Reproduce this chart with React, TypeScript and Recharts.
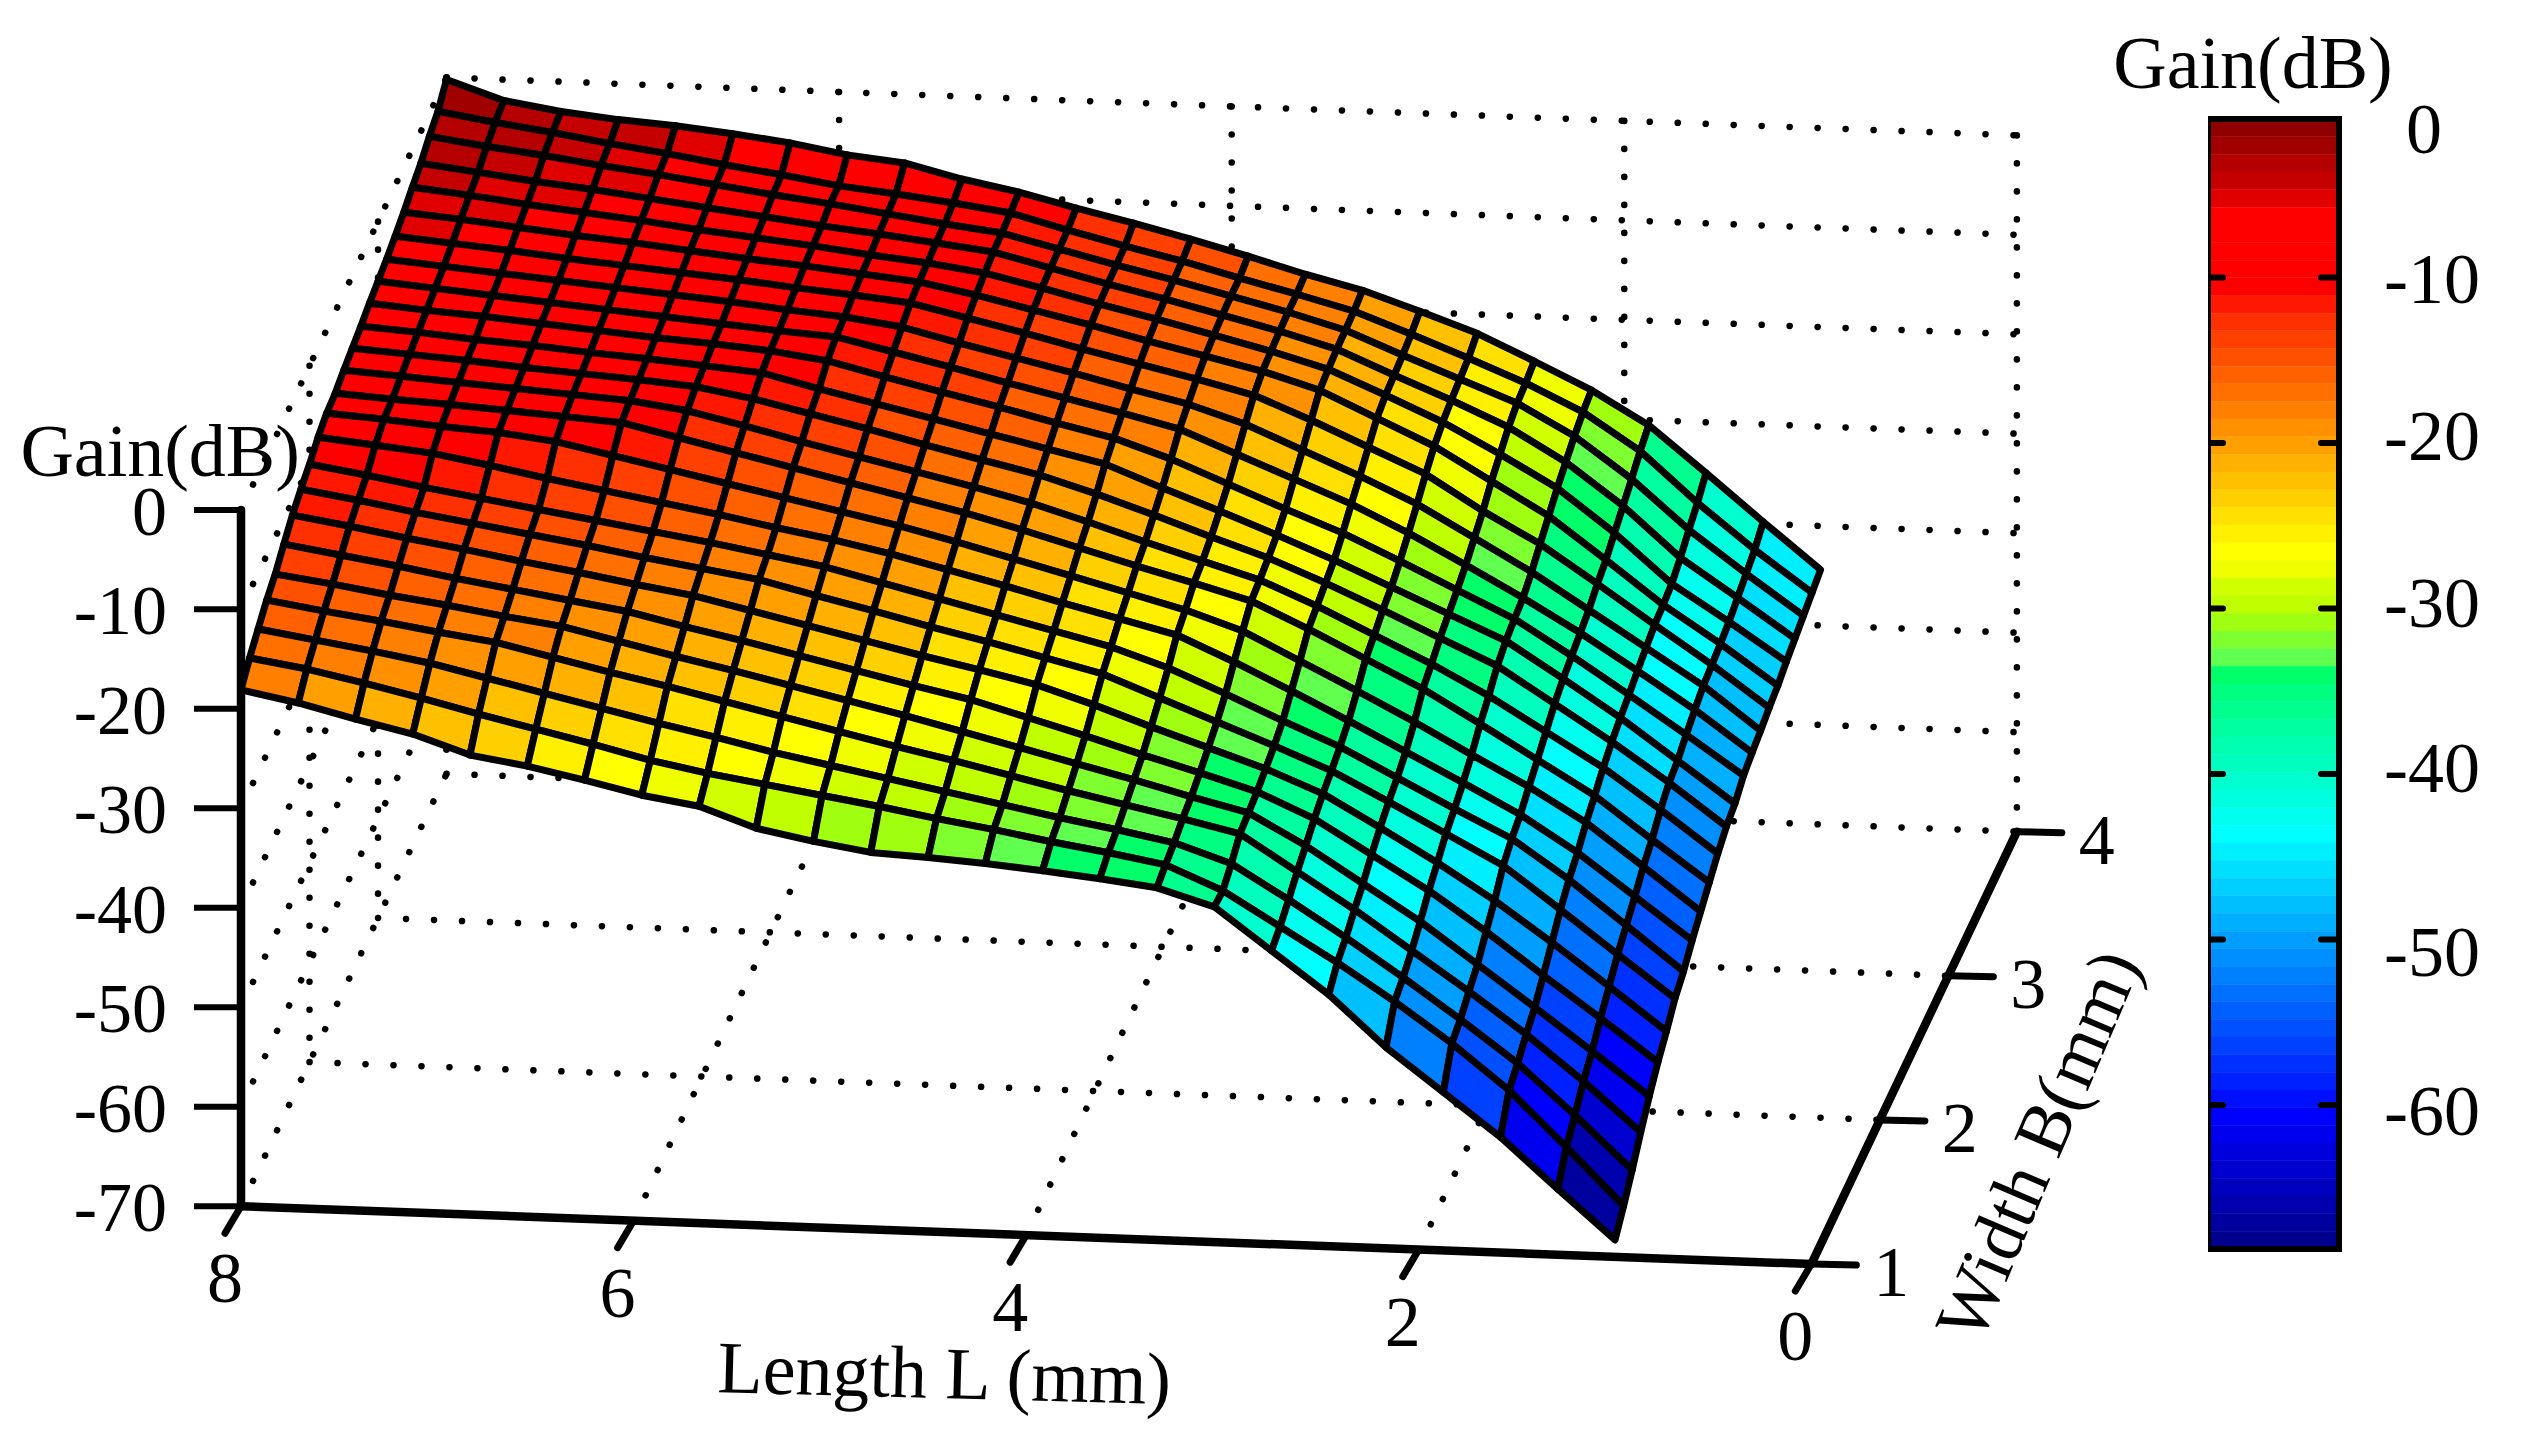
import React from 'react';
import { ScatterChart, Scatter, XAxis, YAxis, ComposedChart, Bar } from 'recharts';

const FONT = '"Liberation Serif", "Times New Roman", serif';

const lengthTicks = [8, 6, 4, 2, 0];
const widthTicks = [1, 2, 3, 4];
const gainTicks = [0, -10, -20, -30, -40, -50, -60, -70];
const colorbarTicks = [0, -10, -20, -30, -40, -50, -60];

const lengthCount = 25; // L from 8 down to 1 mm
const widthCount = 25; // B from 1 up to 4 mm

// Gain (dB): one row per width B (1 -> 4 mm), one value per length L (8 -> 1 mm)
const gainB00 = [-18.1,-19.2,-20.6,-21.9,-23.8,-24.7,-25.9,-27.2,-28.1,-30.1,-31.2,-32.1,-32.4,-32.8,-33.3,-33.9,-34.6,-36.3,-40.5,-44.7,-49.8,-54.1,-58.4,-63.4,-68.3];
const gainB01 = [-16.7,-17.6,-18.8,-20.1,-21.5,-22.8,-24.1,-25.5,-26.6,-27.5,-28.4,-29.3,-30.3,-31.2,-32.2,-33.1,-34.1,-36.5,-39.9,-43.3,-47,-51,-55.5,-61,-66.7];
const gainB02 = [-15.6,-16.5,-17.4,-18.4,-19.7,-21,-22.3,-23.6,-24.8,-26.1,-27.2,-28.3,-29.4,-30.5,-31.6,-32.6,-33.7,-35.6,-39,-42.6,-46.4,-50.4,-54.6,-59.6,-64.9];
const gainB03 = [-14.5,-15.4,-16.2,-17.1,-17.9,-19.2,-20.5,-21.7,-23,-24.3,-25.6,-26.9,-28.1,-29.4,-30.7,-31.9,-33.1,-34.4,-38,-41.6,-45.5,-49.4,-53.5,-58,-62.9];
const gainB04 = [-13.7,-14.5,-15.4,-16.2,-17.1,-17.9,-19.2,-20.5,-21.7,-23,-24.3,-25.6,-27,-28.4,-29.8,-31.2,-32.7,-34.1,-37.2,-40.8,-44.4,-48.5,-52.6,-56.8,-61.1];
const gainB05 = [-12.5,-13.4,-14.3,-15.3,-16.2,-17.1,-18,-19.3,-20.5,-21.8,-23.1,-24.4,-25.6,-27.2,-28.8,-30.5,-32.1,-33.8,-36.3,-39.7,-43.1,-47,-51.2,-55.3,-59.5];
const gainB06 = [-11.4,-12.3,-13.3,-14.2,-15.2,-16.1,-17.1,-18,-19.3,-20.6,-21.9,-23.2,-24.4,-25.7,-27.5,-29.5,-31.4,-33.3,-35.6,-38.8,-42.1,-45.7,-49.7,-53.9,-58.2];
const gainB07 = [-10.6,-11.5,-12.5,-13.4,-14.3,-15.2,-16.2,-17.1,-18,-19.4,-20.7,-22.1,-23.4,-24.8,-26.2,-28.4,-30.6,-32.8,-35.1,-38,-41,-44,-48.2,-52.5,-56.7];
const gainB08 = [-9.9,-10.8,-11.8,-12.7,-13.6,-14.5,-15.4,-16.3,-17.3,-18.3,-19.7,-21.1,-22.5,-23.9,-25.3,-27.2,-29.6,-32.1,-34.5,-37.4,-40.3,-43.1,-47,-51.4,-55.8];
const gainB09 = [-9,-9.6,-10.2,-11.2,-12.3,-13.3,-14.3,-15.3,-16.4,-17.4,-18.6,-20,-21.4,-22.9,-24.3,-25.7,-28.2,-30.9,-33.7,-36.6,-39.5,-42.5,-46.1,-50.3,-54.5];
const gainB10 = [-8.4,-8.8,-9.3,-9.7,-10.4,-11.6,-12.8,-14,-15.2,-16.4,-17.6,-19,-20.5,-22,-23.5,-25,-26.9,-29.7,-32.5,-35.4,-38.5,-41.5,-44.9,-49.1,-53.4];
const gainB11 = [-8.2,-8.6,-8.9,-9.3,-9.7,-10.1,-11.4,-12.7,-14,-15.3,-16.6,-17.9,-19.4,-21,-22.6,-24.1,-25.7,-28.3,-31.1,-33.9,-37.2,-40.6,-44,-48.2,-52.3];
const gainB12 = [-7.7,-8.1,-8.5,-8.9,-9.3,-9.7,-10.5,-11.8,-13.2,-14.5,-15.8,-17.1,-18.5,-20.2,-22,-23.7,-25.4,-27.8,-30.5,-33.2,-36.2,-39.6,-43,-47,-51.2];
const gainB13 = [-7.3,-7.7,-8.1,-8.6,-9,-9.4,-9.9,-10.9,-12.2,-13.5,-14.9,-16.2,-17.5,-19.2,-21.1,-23.1,-25,-27.3,-29.8,-32.4,-35,-38.6,-42.2,-46.1,-50.3];
const gainB14 = [-6.9,-7.3,-7.8,-8.2,-8.7,-9.1,-9.6,-10.1,-11.5,-12.8,-14.1,-15.4,-16.7,-18,-20.2,-22.3,-24.5,-26.8,-29.3,-31.8,-34.3,-37.9,-41.6,-45.7,-49.8];
const gainB15 = [-6.4,-6.9,-7.3,-7.8,-8.3,-8.8,-9.2,-9.7,-10.5,-11.9,-13.2,-14.5,-15.9,-17.2,-19.1,-21.4,-23.7,-25.9,-28.5,-31.2,-33.9,-37.4,-41.1,-44.9,-48.8];
const gainB16 = [-6,-6.5,-7,-7.5,-8,-8.5,-9,-9.5,-9.9,-11.2,-12.5,-13.9,-15.2,-16.5,-17.9,-20.2,-22.5,-24.8,-27.5,-30.5,-33.6,-36.9,-40.5,-44.2,-48.3];
const gainB17 = [-5.6,-6.1,-6.6,-7.1,-7.6,-8.1,-8.6,-9.2,-9.7,-10.5,-11.9,-13.2,-14.5,-15.9,-17.2,-19,-21.4,-23.8,-26.4,-29.6,-32.8,-36.4,-40,-43.6,-47.9];
const gainB18 = [-5.1,-5.6,-6.1,-6.7,-7.2,-7.7,-8.2,-8.8,-9.3,-9.9,-11.2,-12.5,-13.9,-15.2,-16.5,-17.9,-20.2,-22.7,-25.2,-28.7,-31.8,-35.6,-39.5,-43.3,-47.4];
const gainB19 = [-4.5,-5,-5.6,-6.2,-6.7,-7.3,-7.9,-8.4,-9,-9.6,-10.7,-12,-13.3,-14.7,-16,-17.3,-19,-21.6,-24.2,-27.5,-30.8,-35,-39.3,-43,-47];
const gainB20 = [-3.8,-4.4,-5.1,-5.7,-6.3,-7,-7.6,-8.2,-8.9,-9.5,-10.3,-11.6,-13,-14.3,-15.7,-17.1,-18.7,-21.1,-23.6,-26.6,-29.8,-34.1,-39,-42.6,-46.4];
const gainB21 = [-3.2,-3.9,-4.6,-5.2,-5.9,-6.6,-7.3,-8,-8.6,-9.3,-10,-11.4,-12.8,-14.1,-15.5,-16.9,-18.5,-20.9,-23.2,-25.7,-29,-33.2,-38.2,-42,-45.9];
const gainB22 = [-2.3,-3.1,-3.8,-4.6,-5.3,-6.1,-6.9,-7.6,-8.4,-9.2,-9.9,-11.3,-12.7,-14,-15.4,-16.8,-18.4,-20.7,-22.9,-25.1,-28.2,-32.3,-37.2,-41.4,-45.4];
const gainB23 = [-1.6,-2.5,-3.3,-4.2,-5,-5.9,-6.7,-7.6,-8.2,-8.9,-9.7,-11.2,-12.6,-13.9,-15.4,-16.8,-18.3,-20.4,-22.6,-24.9,-27.6,-31.3,-36.3,-40.8,-44.9];
const gainB24 = [-0.2,-2.1,-3,-3.6,-4,-4.6,-5.3,-6.3,-6.9,-8.3,-9.4,-10.8,-12.1,-13.5,-15,-16.6,-18,-19.9,-21.9,-24.5,-27.2,-30.5,-35.1,-39.8,-44.4];

const gainRows = [gainB00,gainB01,gainB02,gainB03,gainB04,gainB05,gainB06,gainB07,gainB08,gainB09,gainB10,gainB11,gainB12,gainB13,gainB14,gainB15,gainB16,gainB17,gainB18,gainB19,gainB20,gainB21,gainB22,gainB23,gainB24];

// Colour bands, lowest gain first
const palette = [
  '#00008F','#00009F','#0000AF','#0000BF','#0000CF','#0000DF','#0000EF','#0000FF',
  '#0010FF','#0020FF','#0030FF','#0040FF','#0050FF','#0060FF','#0070FF','#0080FF',
  '#008FFF','#009FFF','#00AFFF','#00BFFF','#00CFFF','#00DFFF','#00EFFF','#00FFFF',
  '#00FFEF','#00FFDF','#00FFCF','#00FFBF','#00FFAF','#00FF9F','#00FF8F','#00FF80',
  '#00FF68','#60FF50','#80FF30','#A0FF10','#BFFF00','#D0FF00','#EFFF00','#FFFF00',
  '#FFF000','#FFE000','#FFD000','#FFC000','#FFB000','#FFA000','#FF9000','#FF8000',
  '#FF7000','#FF6000','#FF5000','#FF4000','#FF3000','#FF1800','#FF0000','#FF0000',
  '#FF0000','#FF0000','#FF0000','#E00000','#C40000','#B40000','#A00000','#8F0000',
];
const colorMin = -68.7;
const colorMax = -0.42;

const bandColor = (g: number) => {
  const i = Math.floor(((g - colorMin) / (colorMax - colorMin)) * palette.length);
  return palette[Math.max(0, Math.min(palette.length - 1, i))];
};

// Oblique projection of (L, B, Gain) onto the chart's plane; the y unit is dB
const project = (L: number, B: number, G: number) => ({
  x: 8 - L + 0.349 * (B - 1),
  y: G + 14.49 * (B - 1) - 0.727 * (8 - L),
});

const surfacePoints = gainRows.flatMap((row, r) =>
  row.map((g, c) => project(8 - (c * 7) / (lengthCount - 1), 1 + (r * 3) / (widthCount - 1), g)),
);

type Seg = [number, number, number, number, number, number];
const dotted: Seg[] = [
  ...gainTicks.map((g): Seg => [8, 4, g, 0, 4, g]),
  ...lengthTicks.map((l): Seg => [l, 4, 0, l, 4, -70]),
  ...gainTicks.map((g): Seg => [8, 1, g, 8, 4, g]),
  ...[2, 3, 4].map((b): Seg => [8, b, 0, 8, b, -70]),
  ...[6, 4, 2].map((l): Seg => [l, 1, -70, l, 4, -70]),
  ...[2, 3].map((b): Seg => [8, b, -70, 0, b, -70]),
];
const axesSegs: Seg[] = [
  [8, 1, 0, 8, 1, -70],
  [8, 1, -70, 0, 1, -70],
  [0, 1, -70, 0, 4, -70],
];
const segPoints = (s: Seg) => [project(s[0], s[1], s[2]), project(s[3], s[4], s[5])];

const NoDot = () => <g />;

const SurfaceMesh = (props: any) => {
  const pts = props.points as { x: number; y: number }[];
  const cells: React.ReactNode[] = [];
  for (let r = widthCount - 2; r >= 0; r--) {
    for (let c = 0; c < lengthCount - 1; c++) {
      const a = r * lengthCount + c;
      const b = a + 1;
      const d = (r + 1) * lengthCount + c;
      const e = d + 1;
      cells.push(
        <polygon
          key={`${r}-${c}`}
          points={[a, b, e, d].map((i) => `${pts[i].x},${pts[i].y}`).join(' ')}
          fill={bandColor((gainRows[r][c + 1] + gainRows[r + 1][c + 1]) / 2)}
          stroke="#000"
          strokeWidth={7}
          strokeLinejoin="round"
        />,
      );
    }
  }
  return <g>{cells}</g>;
};

const lengthTickPoints = lengthTicks.map((l) => ({ ...project(l, 1, -70), label: String(l) }));
const widthTickPoints = widthTicks.map((b) => ({ ...project(0, b, -70), label: String(b) }));

const LengthTick = (p: any) => (
  <g>
    <line x1={p.cx} y1={p.cy} x2={p.cx - 16} y2={p.cy + 27} stroke="#000" strokeWidth={7} strokeLinecap="round" />
    <text x={p.cx - 16} y={p.cy + 96} textAnchor="middle" fontFamily={FONT} fontSize={72} fill="#000">{p.payload.label}</text>
  </g>
);
const WidthTick = (p: any) => (
  <g>
    <line x1={p.cx} y1={p.cy} x2={p.cx + 45} y2={p.cy + 1} stroke="#000" strokeWidth={7} strokeLinecap="round" />
    <text x={p.cx + 80} y={p.cy + 32} textAnchor="middle" fontFamily={FONT} fontSize={72} fill="#000">{p.payload.label}</text>
  </g>
);

const textMarks = [
  { text: 'Gain(dB)', x: 0.3, y: 3.4, anchor: 'end', angle: 0 },
  { text: 'Gain(dB)', x: 10.25, y: 42.4, anchor: 'middle', angle: 0 },
  { text: 'Length L (mm)', x: 3.58, y: -89.3, anchor: 'middle', angle: 1.5 },
  { text: 'Width B(mm)', x: 9.27, y: -64.8, anchor: 'middle', angle: -67 },
];
const TextMark = (p: any) => (
  <text
    x={p.cx}
    y={p.cy}
    textAnchor={p.payload.anchor}
    fontFamily={FONT}
    fontSize={74}
    fill="#000"
    transform={p.payload.angle ? `rotate(${p.payload.angle} ${p.cx} ${p.cy})` : undefined}
  >
    {p.payload.text}
  </text>
);

// Colour bar
const bandStep = (colorMax - colorMin) / palette.length;
const colorbarRow: Record<string, number> = { cat: 0, gap: colorMax };
palette.forEach((_, i) => {
  colorbarRow[`band${i}`] = -bandStep;
});
const bandsTopDown = palette.map((color, i) => ({ key: `band${i}`, color })).reverse();
const frameRow = [{ cat: 0, frame: [colorMin, colorMax] }];
const colorbarLabelNudge: Record<number, [number, number]> = {
  0: [-8, 17], [-10]: [0, 1], [-20]: [0, -7], [-30]: [0, -6], [-40]: [0, -6], [-50]: [0, 12], [-60]: [0, 6],
};
const barWidth = 131;

const ColorbarTick = (p: any) => {
  const v = p.payload.value as number;
  const [dx, dy] = colorbarLabelNudge[v];
  return (
    <g>
      {v !== 0 && (
        <>
          <line x1={p.x - barWidth} x2={p.x - barWidth + 15} y1={p.y} y2={p.y} stroke="#000" strokeWidth={6} strokeLinecap="round" />
          <line x1={p.x - 18} x2={p.x} y1={p.y} y2={p.y} stroke="#000" strokeWidth={6} strokeLinecap="round" />
        </>
      )}
      <text x={p.x + 93 + dx} y={p.y + dy + 24} textAnchor="middle" fontFamily={FONT} fontSize={72} fill="#000">{String(v)}</text>
    </g>
  );
};

const barMargin = { top: 112, right: 0, bottom: 174.5, left: 0 };

export default function App() {
  return (
    <div style={{ position: 'absolute', left: 0, top: 0, width: 2521, height: 1445, background: '#fff' }}>
      <div style={{ position: 'absolute', left: 0, top: 0 }}>
        <ScatterChart width={2521} height={1445} margin={{ top: 12.5, right: 3, bottom: 10, left: 0 }}>
          <XAxis type="number" dataKey="x" domain={[0, 11.6]} hide />
          <YAxis
            type="number"
            dataKey="y"
            domain={[-93, 50]}
            ticks={gainTicks}
            interval={0}
            width={241}
            axisLine={false}
            tickSize={47}
            tickMargin={27}
            tickLine={{ stroke: '#000', strokeWidth: 6 }}
            tick={{ fill: '#000', fontSize: 70, fontFamily: FONT }}
          />
          {dotted.map((s, i) => (
            <Scatter
              key={`d${i}`}
              data={segPoints(s)}
              isAnimationActive={false}
              shape={NoDot}
              line={{ stroke: '#000', strokeWidth: 6.5, strokeLinecap: 'round', strokeDasharray: '0.1 27.9' }}
            />
          ))}
          {axesSegs.map((s, i) => (
            <Scatter
              key={`a${i}`}
              data={segPoints(s)}
              isAnimationActive={false}
              shape={NoDot}
              line={{ stroke: '#000', strokeWidth: 8.5, strokeLinecap: 'round' }}
            />
          ))}
          <Scatter data={lengthTickPoints} isAnimationActive={false} shape={LengthTick} />
          <Scatter data={widthTickPoints} isAnimationActive={false} shape={WidthTick} />
          <Scatter data={surfacePoints} isAnimationActive={false} shape={NoDot} line={(p: any) => <SurfaceMesh {...p} />} />
          <Scatter data={textMarks} isAnimationActive={false} shape={TextMark} />
        </ScatterChart>
      </div>
      <div style={{ position: 'absolute', left: 2208, top: 0 }}>
        <ComposedChart
          width={313}
          height={1445}
          data={[colorbarRow]}
          margin={barMargin}
          barCategoryGap={0}
          barGap={0}
          stackOffset="sign"
        >
          <XAxis dataKey="cat" hide />
          <YAxis orientation="right" type="number" domain={[-70, 0]} width={182} hide={false} ticks={[]} axisLine={false} tickLine={false} />
          <Bar dataKey="gap" stackId="c" fill="none" isAnimationActive={false} />
          {bandsTopDown.map((b) => (
            <Bar key={b.key} dataKey={b.key} stackId="c" fill={b.color} stroke={b.color} strokeWidth={0.5} isAnimationActive={false} />
          ))}
        </ComposedChart>
      </div>
      <div style={{ position: 'absolute', left: 2208, top: 0 }}>
        <ComposedChart
          width={313}
          height={1445}
          data={frameRow}
          margin={barMargin}
          barCategoryGap={0}
          barGap={0}
        >
          <XAxis dataKey="cat" hide />
          <YAxis
            orientation="right"
            type="number"
            domain={[-70, 0]}
            ticks={colorbarTicks}
            interval={0}
            width={182}
            axisLine={false}
            tickLine={false}
            tickSize={0}
            tickMargin={0}
            tick={ColorbarTick}
          />
          <Bar dataKey="frame" fill="none" stroke="#000" strokeWidth={6} isAnimationActive={false} />
        </ComposedChart>
      </div>
    </div>
  );
}
